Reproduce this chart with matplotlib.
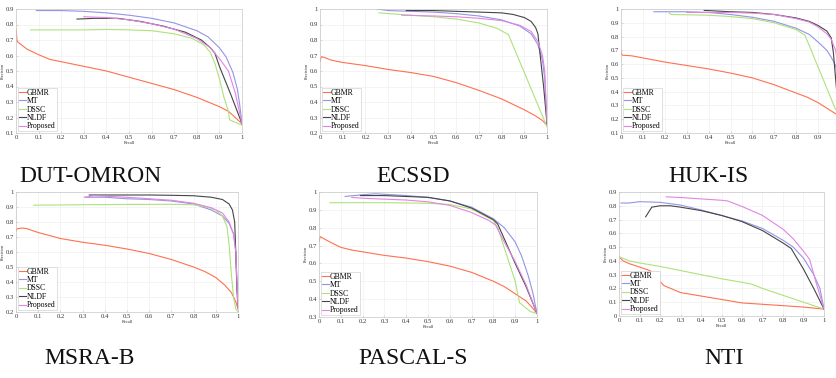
import matplotlib
matplotlib.use("Agg")
import matplotlib.pyplot as plt
import numpy as np

plt.rcParams['font.family'] = ['Liberation Serif', 'DejaVu Serif']

W, H = 836, 378

methods = ["GBMR", "MT", "DSSC", "NLDF", "Proposed"]
colors = ["#FF7050", "#9494E6", "#AEE27A", "#454545", "#E285E2"]

# ---------------- DUT-OMRON ----------------
dut_gbmr_r = [0.0, 0.005, 0.05, 0.1, 0.15, 0.2, 0.3, 0.4, 0.5, 0.6, 0.7, 0.8, 0.85, 0.9, 0.94, 0.97, 1.0]
dut_gbmr_p = [0.77, 0.69, 0.64, 0.605, 0.575, 0.56, 0.53, 0.50, 0.46, 0.42, 0.38, 0.33, 0.30, 0.27, 0.24, 0.20, 0.16]
dut_mt_r = [0.09, 0.2, 0.3, 0.4, 0.5, 0.6, 0.7, 0.8, 0.85, 0.9, 0.93, 0.96, 0.98, 0.99, 1.0]
dut_mt_p = [0.89, 0.89, 0.885, 0.875, 0.86, 0.84, 0.81, 0.76, 0.72, 0.65, 0.59, 0.49, 0.38, 0.28, 0.16]
dut_dssc_r = [0.065, 0.3, 0.4, 0.5, 0.6, 0.7, 0.78, 0.83, 0.86, 0.88, 0.9, 0.92, 0.94, 0.945, 1.0]
dut_dssc_p = [0.765, 0.765, 0.768, 0.765, 0.76, 0.74, 0.71, 0.67, 0.62, 0.55, 0.45, 0.33, 0.24, 0.185, 0.15]
dut_nldf_r = [0.27, 0.35, 0.45, 0.55, 0.65, 0.75, 0.82, 0.86, 0.88, 0.9, 0.95, 1.0]
dut_nldf_p = [0.835, 0.84, 0.84, 0.82, 0.79, 0.75, 0.70, 0.65, 0.615, 0.53, 0.35, 0.16]
dut_prop_r = [0.3, 0.4, 0.5, 0.6, 0.7, 0.8, 0.86, 0.9, 0.94, 0.97, 1.0]
dut_prop_p = [0.85, 0.845, 0.83, 0.805, 0.77, 0.71, 0.65, 0.58, 0.50, 0.36, 0.16]

# ---------------- ECSSD ----------------
ec_gbmr_r = [0.0, 0.005, 0.015, 0.05, 0.1, 0.2, 0.3, 0.4, 0.5, 0.6, 0.7, 0.8, 0.9, 0.95, 0.98, 1.0]
ec_gbmr_p = [0.66, 0.69, 0.69, 0.67, 0.655, 0.635, 0.61, 0.59, 0.565, 0.525, 0.475, 0.42, 0.35, 0.31, 0.28, 0.25]
ec_mt_r = [0.25, 0.3, 0.4, 0.5, 0.6, 0.7, 0.8, 0.88, 0.93, 0.96, 0.98, 0.99, 1.0]
ec_mt_p = [1.0, 0.99, 0.985, 0.98, 0.97, 0.955, 0.93, 0.89, 0.84, 0.77, 0.67, 0.55, 0.25]
ec_dssc_r = [0.26, 0.4, 0.5, 0.6, 0.7, 0.78, 0.83, 1.0]
ec_dssc_p = [0.975, 0.96, 0.95, 0.935, 0.91, 0.875, 0.835, 0.24]
ec_nldf_r = [0.38, 0.5, 0.6, 0.7, 0.8, 0.85, 0.9, 0.93, 0.95, 0.96, 0.97, 0.985, 1.0]
ec_nldf_p = [0.99, 0.99, 0.985, 0.98, 0.975, 0.965, 0.945, 0.92, 0.88, 0.84, 0.70, 0.50, 0.26]
ec_prop_r = [0.36, 0.5, 0.6, 0.7, 0.8, 0.88, 0.93, 0.96, 0.98, 0.99, 1.0]
ec_prop_p = [0.96, 0.955, 0.95, 0.94, 0.925, 0.895, 0.855, 0.79, 0.70, 0.60, 0.27]

# ---------------- HUK-IS ----------------
hk_gbmr_r = [0.0, 0.005, 0.05, 0.1, 0.2, 0.3, 0.4, 0.5, 0.6, 0.7, 0.8, 0.85, 0.9, 0.95, 0.98, 1.0]
hk_gbmr_p = [0.69, 0.665, 0.66, 0.645, 0.615, 0.59, 0.565, 0.535, 0.50, 0.45, 0.39, 0.36, 0.32, 0.27, 0.24, 0.22]
hk_mt_r = [0.15, 0.3, 0.4, 0.5, 0.6, 0.7, 0.8, 0.86, 0.9, 0.94, 0.96, 0.98, 0.99, 1.0]
hk_mt_p = [0.98, 0.98, 0.975, 0.96, 0.94, 0.91, 0.86, 0.815, 0.76, 0.70, 0.65, 0.59, 0.50, 0.30]
hk_dssc_r = [0.22, 0.23, 0.4, 0.5, 0.6, 0.7, 0.8, 0.84, 0.98, 1.0]
hk_dssc_p = [0.97, 0.96, 0.955, 0.945, 0.93, 0.90, 0.85, 0.81, 0.27, 0.25]
hk_nldf_r = [0.38, 0.5, 0.6, 0.7, 0.8, 0.86, 0.9, 0.94, 0.96, 0.97, 0.985, 1.0]
hk_nldf_p = [0.99, 0.98, 0.975, 0.96, 0.935, 0.91, 0.88, 0.84, 0.79, 0.68, 0.40, 0.30]
hk_prop_r = [0.3, 0.5, 0.6, 0.7, 0.8, 0.86, 0.9, 0.94, 0.96, 0.98, 0.99, 1.0]
hk_prop_p = [0.975, 0.975, 0.97, 0.96, 0.93, 0.905, 0.87, 0.82, 0.78, 0.70, 0.60, 0.40]

# ---------------- MSRA-B ----------------
ms_gbmr_r = [0.0, 0.005, 0.03, 0.05, 0.1, 0.2, 0.3, 0.4, 0.5, 0.6, 0.7, 0.8, 0.85, 0.9, 0.94, 0.97, 0.99, 1.0]
ms_gbmr_p = [0.74, 0.755, 0.76, 0.755, 0.73, 0.69, 0.665, 0.645, 0.62, 0.59, 0.55, 0.50, 0.47, 0.43, 0.38, 0.33, 0.27, 0.22]
ms_mt_r = [0.31, 0.4, 0.5, 0.6, 0.7, 0.8, 0.88, 0.93, 0.96, 0.98, 0.99, 1.0]
ms_mt_p = [0.965, 0.965, 0.955, 0.95, 0.94, 0.92, 0.88, 0.84, 0.79, 0.72, 0.60, 0.25]
ms_dssc_r = [0.08, 0.3, 0.5, 0.7, 0.8, 0.86, 0.9, 0.93, 0.95, 0.96, 0.97, 0.98, 0.99, 1.0]
ms_dssc_p = [0.912, 0.915, 0.917, 0.918, 0.915, 0.90, 0.88, 0.84, 0.77, 0.65, 0.45, 0.30, 0.22, 0.20]
ms_nldf_r = [0.33, 0.5, 0.6, 0.7, 0.8, 0.88, 0.93, 0.96, 0.975, 0.985, 0.99, 0.995, 1.0]
ms_nldf_p = [0.98, 0.98, 0.98, 0.978, 0.975, 0.965, 0.95, 0.92, 0.88, 0.80, 0.60, 0.35, 0.23]
ms_prop_r = [0.31, 0.35, 0.5, 0.6, 0.7, 0.8, 0.88, 0.93, 0.96, 0.98, 0.99, 1.0]
ms_prop_p = [0.965, 0.975, 0.965, 0.955, 0.945, 0.925, 0.895, 0.86, 0.80, 0.72, 0.60, 0.22]

# ---------------- PASCAL-S ----------------
pa_gbmr_r = [0.0, 0.005, 0.05, 0.1, 0.15, 0.2, 0.3, 0.4, 0.5, 0.6, 0.7, 0.8, 0.85, 0.9, 0.95, 0.98, 1.0]
pa_gbmr_p = [0.72, 0.75, 0.72, 0.69, 0.675, 0.665, 0.645, 0.63, 0.61, 0.585, 0.55, 0.50, 0.47, 0.43, 0.39, 0.35, 0.32]
pa_mt_r = [0.12, 0.2, 0.26, 0.4, 0.5, 0.6, 0.7, 0.8, 0.85, 0.9, 0.93, 0.96, 0.98, 1.0]
pa_mt_p = [0.975, 0.985, 0.99, 0.98, 0.97, 0.95, 0.915, 0.85, 0.80, 0.72, 0.64, 0.53, 0.44, 0.32]
pa_dssc_r = [0.05, 0.3, 0.5, 0.6, 0.7, 0.8, 0.82, 0.86, 0.9, 0.92, 0.97, 1.0]
pa_dssc_p = [0.94, 0.94, 0.937, 0.93, 0.905, 0.84, 0.80, 0.65, 0.50, 0.38, 0.33, 0.32]
pa_nldf_r = [0.19, 0.3, 0.4, 0.5, 0.6, 0.7, 0.8, 0.82, 0.86, 0.9, 0.95, 1.0]
pa_nldf_p = [0.98, 0.98, 0.975, 0.97, 0.95, 0.91, 0.845, 0.82, 0.71, 0.60, 0.47, 0.32]
pa_prop_r = [0.15, 0.2, 0.3, 0.4, 0.5, 0.6, 0.7, 0.78, 0.81, 0.85, 0.9, 0.95, 1.0]
pa_prop_p = [0.97, 0.965, 0.96, 0.955, 0.945, 0.925, 0.885, 0.84, 0.815, 0.72, 0.61, 0.48, 0.32]

# ---------------- NTI ----------------
nt_gbmr_r = [0.0, 0.02, 0.05, 0.1, 0.15, 0.17, 0.2, 0.22, 0.3, 0.4, 0.5, 0.6, 0.7, 0.8, 0.9, 1.0]
nt_gbmr_p = [0.43, 0.40, 0.38, 0.355, 0.33, 0.31, 0.25, 0.22, 0.17, 0.145, 0.12, 0.095, 0.085, 0.075, 0.065, 0.05]
nt_mt_r = [0.01, 0.05, 0.1, 0.2, 0.3, 0.4, 0.5, 0.6, 0.7, 0.8, 0.85, 0.9, 0.95, 0.98, 1.0]
nt_mt_p = [0.82, 0.82, 0.83, 0.825, 0.805, 0.77, 0.73, 0.69, 0.635, 0.55, 0.50, 0.42, 0.30, 0.20, 0.05]
nt_dssc_r = [0.0, 0.05, 0.1, 0.2, 0.3, 0.4, 0.5, 0.6, 0.65, 0.7, 0.8, 0.9, 1.0]
nt_dssc_p = [0.43, 0.40, 0.385, 0.36, 0.33, 0.30, 0.27, 0.245, 0.23, 0.20, 0.15, 0.10, 0.05]
nt_nldf_r = [0.13, 0.16, 0.2, 0.25, 0.3, 0.4, 0.5, 0.6, 0.7, 0.8, 0.84, 0.9, 0.95, 1.0]
nt_nldf_p = [0.72, 0.79, 0.80, 0.80, 0.79, 0.765, 0.73, 0.685, 0.62, 0.53, 0.49, 0.34, 0.20, 0.05]
nt_prop_r = [0.23, 0.3, 0.4, 0.5, 0.53, 0.6, 0.7, 0.8, 0.85, 0.9, 0.93, 0.96, 1.0]
nt_prop_p = [0.865, 0.86, 0.85, 0.84, 0.835, 0.795, 0.73, 0.63, 0.56, 0.47, 0.41, 0.25, 0.05]

panels = [
    ("DUT-OMRON", (16, 9, 242, 133), (0.1, 0.9),
     [(dut_gbmr_r, dut_gbmr_p), (dut_mt_r, dut_mt_p), (dut_dssc_r, dut_dssc_p), (dut_nldf_r, dut_nldf_p), (dut_prop_r, dut_prop_p)],
     (90, 176)),
    ("ECSSD", (320, 9, 547, 133), (0.2, 1.0),
     [(ec_gbmr_r, ec_gbmr_p), (ec_mt_r, ec_mt_p), (ec_dssc_r, ec_dssc_p), (ec_nldf_r, ec_nldf_p), (ec_prop_r, ec_prop_p)],
     (413, 176)),
    ("HUK-IS", (621, 9, 840, 133), (0.1, 1.0),
     [(hk_gbmr_r, hk_gbmr_p), (hk_mt_r, hk_mt_p), (hk_dssc_r, hk_dssc_p), (hk_nldf_r, hk_nldf_p), (hk_prop_r, hk_prop_p)],
     (708, 176)),
    ("MSRA-B", (16, 192, 238, 312), (0.2, 1.0),
     [(ms_gbmr_r, ms_gbmr_p), (ms_mt_r, ms_mt_p), (ms_dssc_r, ms_dssc_p), (ms_nldf_r, ms_nldf_p), (ms_prop_r, ms_prop_p)],
     (90, 358)),
    ("PASCAL-S", (319, 192, 537, 317), (0.3, 1.0),
     [(pa_gbmr_r, pa_gbmr_p), (pa_mt_r, pa_mt_p), (pa_dssc_r, pa_dssc_p), (pa_nldf_r, pa_nldf_p), (pa_prop_r, pa_prop_p)],
     (413, 358)),
    ("NTI", (619, 192, 824, 316), (0.0, 0.9),
     [(nt_gbmr_r, nt_gbmr_p), (nt_mt_r, nt_mt_p), (nt_dssc_r, nt_dssc_p), (nt_nldf_r, nt_nldf_p), (nt_prop_r, nt_prop_p)],
     (724, 358)),
]

fig = plt.figure(figsize=(W / 100, H / 100), dpi=100)

for name, (l, t, r, b), (y0, y1), series, (cx, cy) in panels:
    ax = fig.add_axes([l / W, 1 - b / H, (r - l) / W, (b - t) / H])
    for (rr, pp), c, m in zip(series, colors, methods):
        ax.plot(rr, pp, color=c, lw=0.8, label=m)
    ax.set_xlim(0, 1)
    ax.set_ylim(y0, y1)
    xt = np.round(np.arange(0, 1.01, 0.1), 1)
    ax.set_xticks(xt)
    xl = ["0"] + ["%.1f" % v for v in xt[1:-1]] + ["1"]
    if r > W:
        xl[-1] = ""  # this label falls outside the figure in the reference
    ax.set_xticklabels(xl)
    yt = np.round(np.arange(y0, y1 + 0.001, 0.1), 1)
    ax.set_yticks(yt)
    ax.set_yticklabels(["1" if v == 1.0 else ("0" if v == 0 else "%.1f" % v) for v in yt])
    ax.tick_params(direction='in', length=1.5, width=0.4, labelsize=4.8, pad=1.5,
                   colors='#c0c0c0', labelcolor='#333333')
    ax.grid(True, color='#ececec', lw=0.4)
    for s in ax.spines.values():
        s.set_color('#c8c8c8')
        s.set_linewidth(0.5)
    ax.set_xlabel("Recall", fontsize=3.2, labelpad=0.5, color='#333333')
    ax.set_ylabel("Precision", fontsize=3.2, labelpad=0.5, color='#333333')
    leg = ax.legend(loc='lower left', fontsize=5.6, handlelength=0.9, handletextpad=0.15,
                    borderpad=0.15, labelspacing=0.05, borderaxespad=0.2, fancybox=False,
                    framealpha=1, edgecolor='#c8c8c8')
    leg.get_frame().set_linewidth(0.4)
    fig.text(cx / W, 1 - cy / H, name, fontsize=17, ha='center', va='center',
             color='#111111')

fig.savefig("out.png", dpi=100)
